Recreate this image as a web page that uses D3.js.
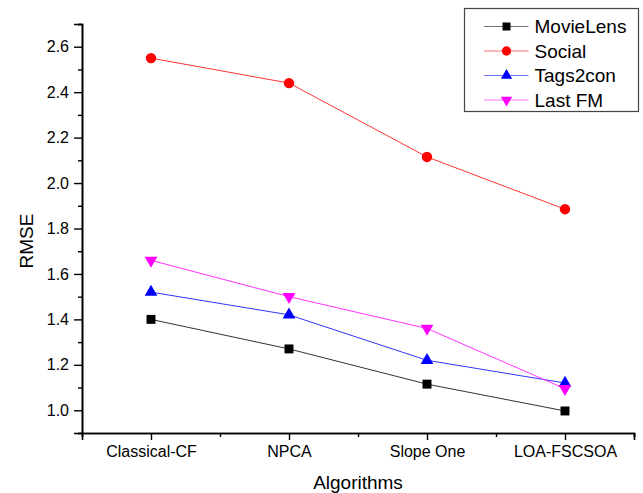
<!DOCTYPE html>
<html>
<head>
<meta charset="utf-8">
<script src="https://cdn.jsdelivr.net/npm/d3@7"></script>
<style>
  body { margin: 0; background: #fff; }
  text { font-family: "Liberation Sans", Arial, sans-serif; }
</style>
</head>
<body>
<script>
var W = 643, H = 493;
var margin = {top: 24, right: 9, bottom: 60, left: 82};

var categories = ["Classical-CF", "NPCA", "Slope One", "LOA-FSCSOA"];
var movieLens = [1.40, 1.27, 1.115, 0.997];
var social    = [2.55, 2.44, 2.115, 1.885];
var tags2con  = [1.52, 1.42, 1.22, 1.12];
var lastFM    = [1.66, 1.50, 1.36, 1.095];
var yTicks = [1.0, 1.2, 1.4, 1.6, 1.8, 2.0, 2.2, 2.4, 2.6];

var series = [
  {name: "MovieLens", values: movieLens, color: "#000000", line: "#333333", sym: d3.symbolSquare, size: 80, rot: 0},
  {name: "Social",    values: social,    color: "#ff0000", line: "#ff3333", sym: d3.symbolCircle, size: 85, rot: 0},
  {name: "Tags2con",  values: tags2con,  color: "#0000ff", line: "#3333ff", sym: d3.symbolTriangle, size: 70, rot: 0},
  {name: "Last FM",   values: lastFM,    color: "#ff00ff", line: "#ff33ff", sym: d3.symbolTriangle, size: 70, rot: 180}
];

var svg = d3.select("body").append("svg")
  .attr("width", W).attr("height", H);

var x = d3.scaleLinear().domain([0.5, 4.5]).range([margin.left, W - margin.right]);
var y = d3.scaleLinear().domain([0.9, 2.7]).range([H - margin.bottom, margin.top]);

// axes
var xAxis = d3.axisBottom(x)
  .tickValues([1, 2, 3, 4])
  .tickFormat(function(d) { return categories[d - 1]; })
  .tickSize(7).tickPadding(6);
var xMinor = d3.axisBottom(x).tickValues([0.5, 1.5, 2.5, 3.5, 4.5]).tickSize(4).tickFormat("");

var yAxis = d3.axisLeft(y).tickValues(yTicks).tickFormat(d3.format(".1f")).tickSize(8).tickPadding(5);
var yMinor = d3.axisLeft(y).tickValues(d3.range(0.9, 2.75, 0.2)).tickSize(4).tickFormat("");

function styleAxis(g) {
  g.select(".domain").attr("stroke", "#000").attr("stroke-width", 1.6);
  g.selectAll(".tick line").attr("stroke", "#000").attr("stroke-width", 1.4);
  g.selectAll(".tick text").style("font-size", "16px").attr("fill", "#000");
}

svg.append("g").attr("transform", "translate(0," + y.range()[0] + ")").call(xMinor).call(styleAxis);
svg.append("g").attr("transform", "translate(0," + y.range()[0] + ")").call(xAxis).call(styleAxis);
svg.append("g").attr("transform", "translate(" + margin.left + ",0)").call(yMinor).call(styleAxis);
svg.append("g").attr("transform", "translate(" + margin.left + ",0)").call(yAxis).call(styleAxis);

// axis titles
svg.append("text")
  .attr("x", (x.range()[0] + x.range()[1]) / 2).attr("y", 489)
  .attr("text-anchor", "middle").style("font-size", "19px")
  .text("Algorithms");
svg.append("text")
  .attr("transform", "translate(33,241) rotate(-90)")
  .attr("text-anchor", "middle").style("font-size", "19px")
  .text("RMSE");

// lines and markers
var line = d3.line()
  .x(function(d, i) { return x(i + 1); })
  .y(function(d) { return y(d); });

series.forEach(function(s) {
  svg.append("path")
    .datum(s.values)
    .attr("d", line)
    .attr("fill", "none")
    .attr("stroke", s.line)
    .attr("stroke-width", 1);
});

series.forEach(function(s) {
  svg.selectAll(null)
    .data(s.values)
    .enter().append("path")
    .attr("d", d3.symbol().type(s.sym).size(s.size))
    .attr("transform", function(d, i) {
      return "translate(" + x(i + 1) + "," + y(d) + ") rotate(" + s.rot + ")";
    })
    .attr("fill", s.color);
});

// legend
var lg = svg.append("g").attr("transform", "translate(464.5,8.5)");
lg.append("rect")
  .attr("width", 174).attr("height", 103)
  .attr("fill", "#fff").attr("stroke", "#444").attr("stroke-width", 1.2);

var rows = lg.selectAll(".row").data(series).enter().append("g")
  .attr("transform", function(d, i) { return "translate(0," + (18 + i * 24.5) + ")"; });
rows.append("line")
  .attr("x1", 19.5).attr("x2", 64)
  .attr("stroke", function(d) { return d.line; })
  .attr("stroke-opacity", 0.7)
  .attr("stroke-width", 1);
rows.append("path")
  .attr("d", function(d) { return d3.symbol().type(d.sym).size(d.size * 0.8)(); })
  .attr("transform", function(d) { return "translate(42,0) rotate(" + d.rot + ")"; })
  .attr("fill", function(d) { return d.color; });
rows.append("text")
  .attr("x", 70).attr("dy", "0.35em")
  .style("font-size", "19px")
  .text(function(d) { return d.name; });
</script>
</body>
</html>
